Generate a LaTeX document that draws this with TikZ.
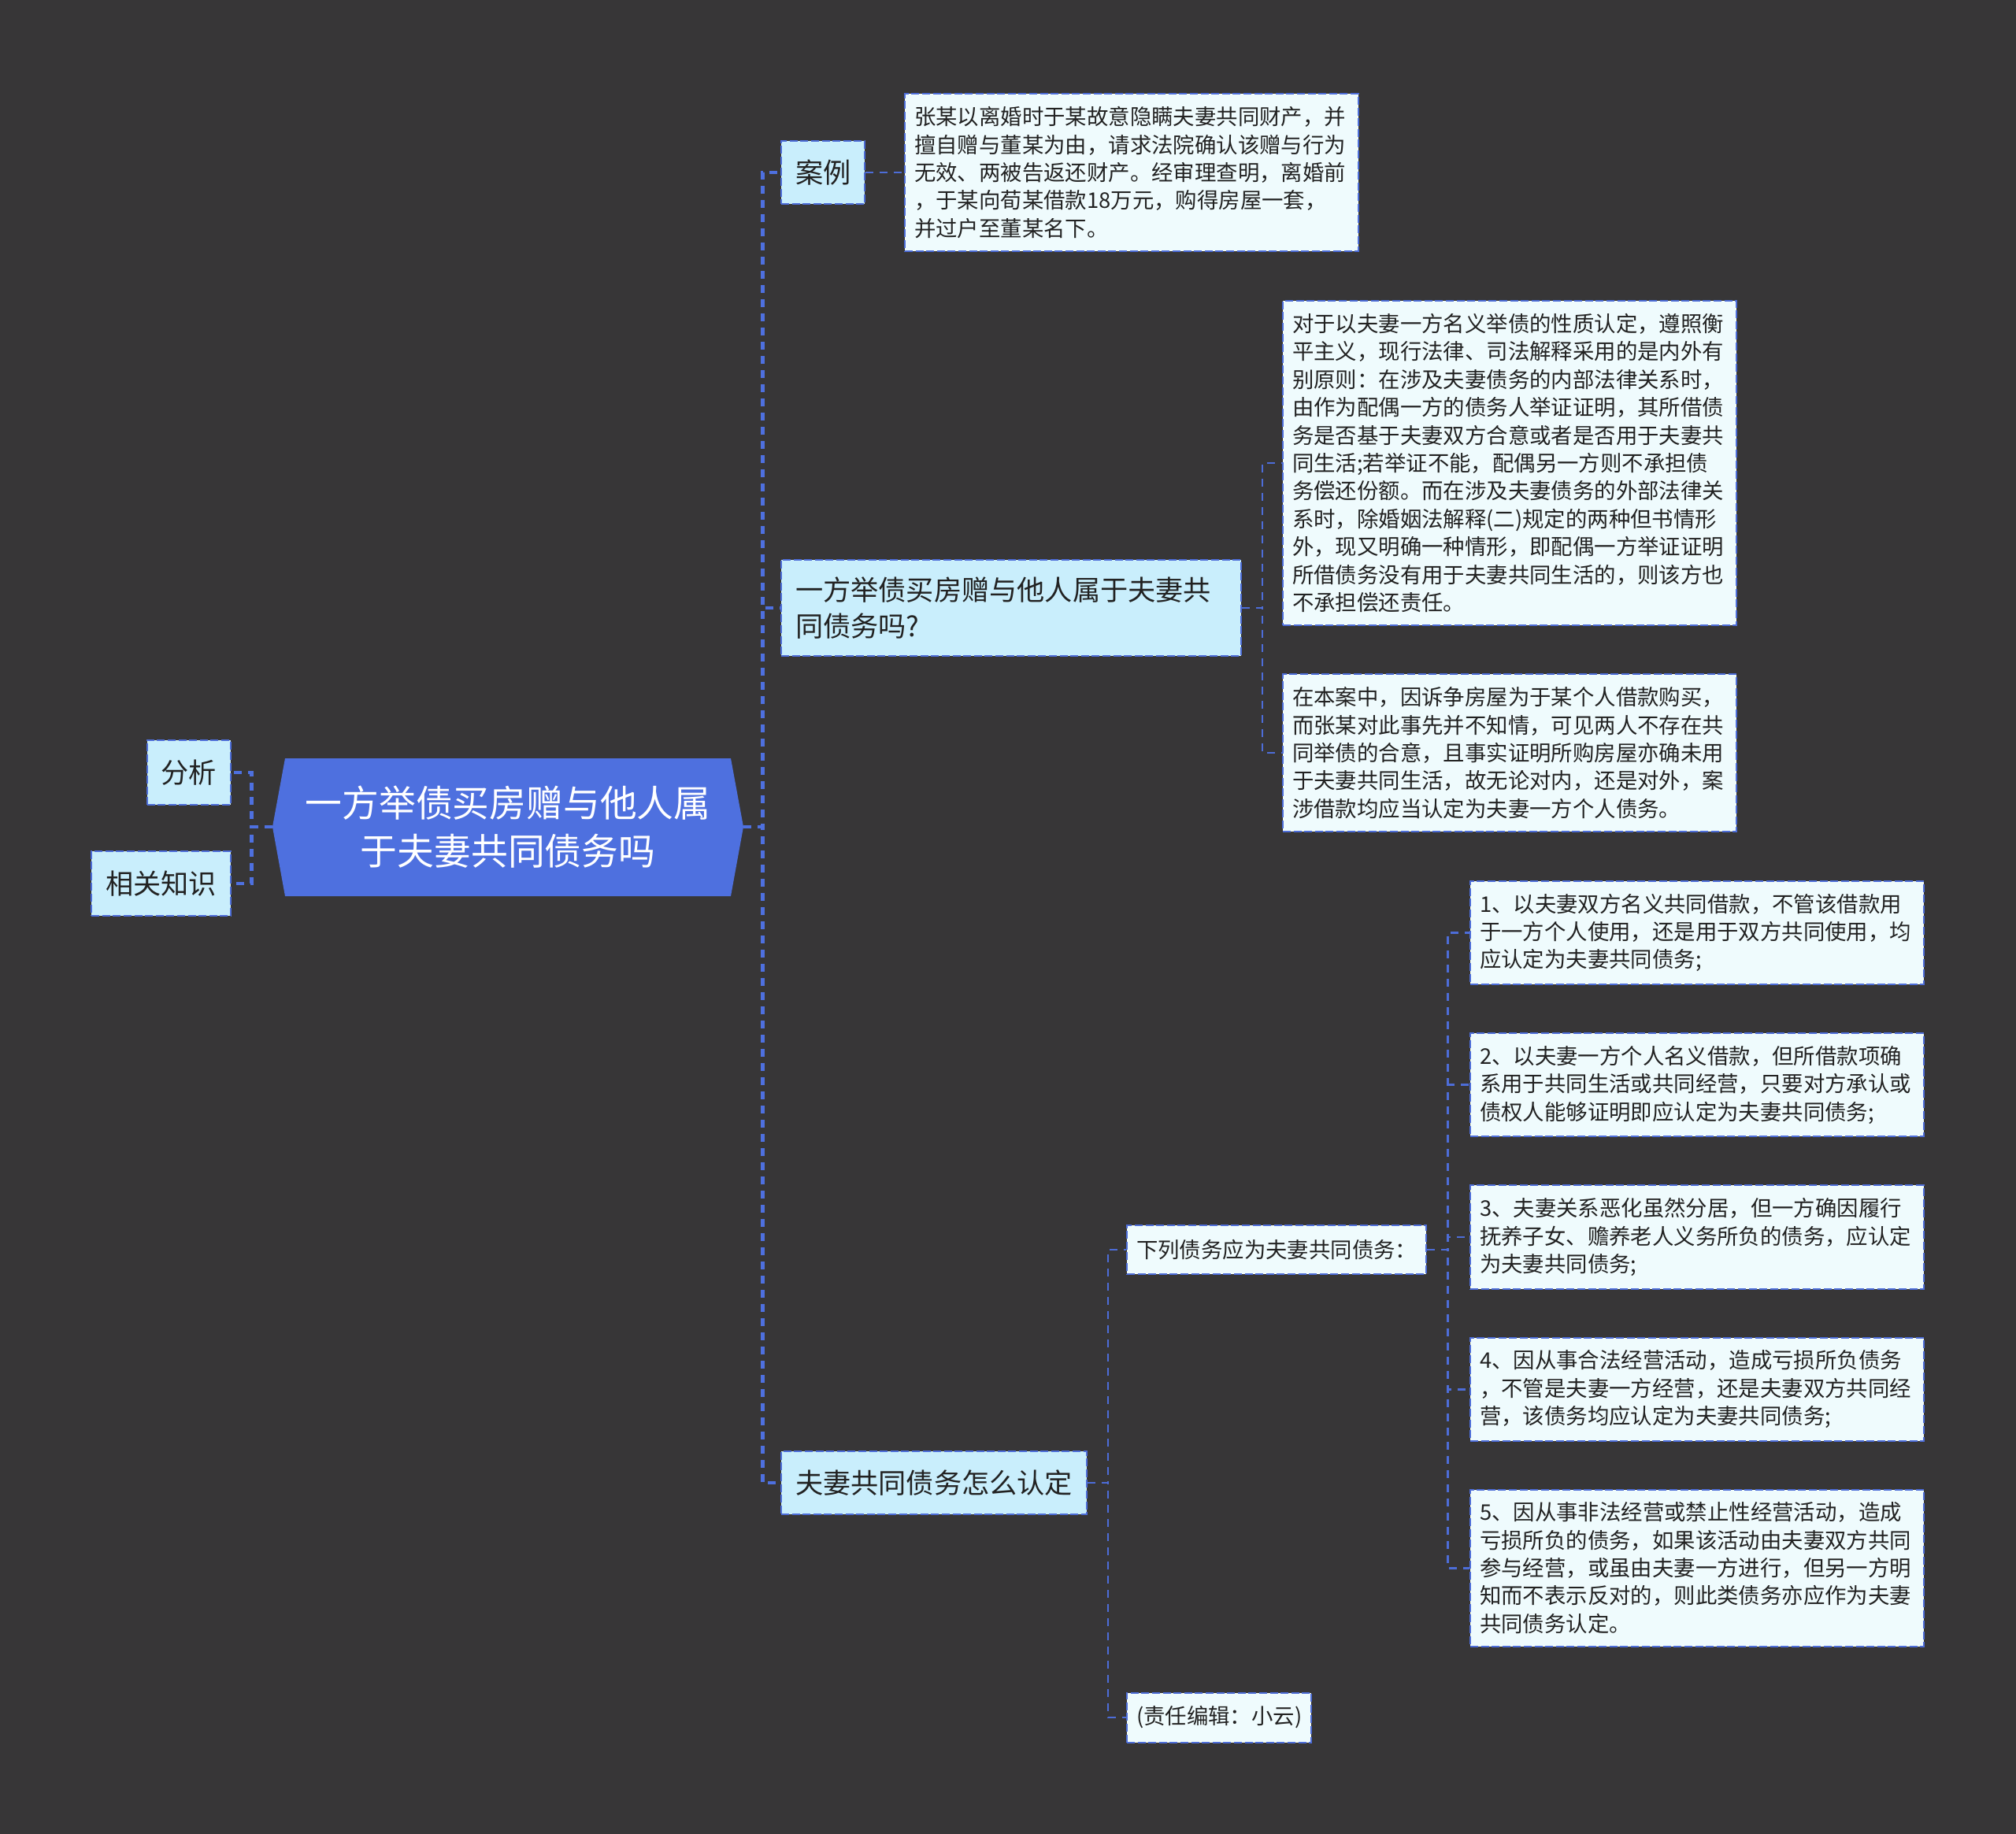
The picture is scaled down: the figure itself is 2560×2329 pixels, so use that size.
\documentclass[tikz,border=0pt]{standalone}
\usepackage{fontspec}
\usepackage{xcolor}
\usepackage{tikz}
\usetikzlibrary{positioning}
\newfontfamily\cjk{Noto Sans CJK SC}
\definecolor{Canvas}{HTML}{373637}
\definecolor{RootFill}{HTML}{4E70DF}
\definecolor{Edge}{HTML}{4D6DD8}
\definecolor{Topic}{HTML}{C9EEFC}
\definecolor{Note}{HTML}{EFFBFD}
\definecolor{Ink}{HTML}{222222}

\begin{document}
\begin{tikzpicture}[x=0.5pt,y=-0.5pt,
  node distance=30pt,
  rootbox/.style={align=center,text=white,inner sep=0pt,minimum width=299pt,minimum height=87.5pt,font=\cjk\fontsize{23.4pt}{30.2pt}\selectfont},
  topicbox/.style={draw=Edge,dash pattern=on 5pt off 1.8pt,line width=1pt,fill=Topic,text=Ink,align=left,inner xsep=9pt,inner ysep=11pt,minimum height=40pt,font=\cjk\fontsize{17.6pt}{22.9pt}\selectfont},
  notebox/.style={draw=Edge,dash pattern=on 5pt off 1.8pt,line width=1pt,fill=Note,text=Ink,align=left,inner xsep=6pt,inner ysep=8pt,font=\cjk\fontsize{13.7pt}{17.7pt}\selectfont},
  textbox/.style={notebox,text width=276pt},
  link/.style={draw=Edge,line width=1.4pt,dash pattern=on 5pt off 4pt},
  rootlink/.style={link,draw=RootFill,line width=2.2pt}]
  \fill[Canvas] (0,0) rectangle (2560,2329);
  \useasboundingbox (0,0) rectangle (2560,2329);
  \fill[RootFill] (346,1050) -- (362,963) -- (928,963) -- (944,1050) -- (928,1138) -- (362,1138) -- cycle;
  \node[rootbox] (root) at (645,1050) {一方举债买房赠与他人属\\于夫妻共同债务吗};
  \node[topicbox,anchor=east,minimum height=41pt] (fenxi) at (294,981) {分析};
  \node[topicbox,anchor=east,minimum height=41pt] (zhishi) at (294,1122) {相关知识};
  \node[topicbox,anchor=west] (case) at (991,219) {案例};
  \node[textbox,anchor=west] (casetext) at (1148,219) {张某以离婚时于某故意隐瞒夫妻共同财产，并\\擅自赠与董某为由，请求法院确认该赠与行为\\无效、两被告返还财产。经审理查明，离婚前\\，于某向荀某借款18万元，购得房屋一套，\\并过户至董某名下。};
  \node[topicbox,anchor=west,text width=274pt] (question) at (991,772) {一方举债买房赠与他人属于夫妻共\\同债务吗?};
  \node[textbox,anchor=west] (ansA) at (1628,588) {对于以夫妻一方名义举债的性质认定，遵照衡\\平主义，现行法律、司法解释采用的是内外有\\别原则：在涉及夫妻债务的内部法律关系时，\\由作为配偶一方的债务人举证证明，其所借债\\务是否基于夫妻双方合意或者是否用于夫妻共\\同生活;若举证不能，配偶另一方则不承担债\\务偿还份额。而在涉及夫妻债务的外部法律关\\系时，除婚姻法解释(二)规定的两种但书情形\\外，现又明确一种情形，即配偶一方举证证明\\所借债务没有用于夫妻共同生活的，则该方也\\不承担偿还责任。};
  \node[textbox,anchor=west] (ansB) at (1628,956) {在本案中，因诉争房屋为于某个人借款购买，\\而张某对此事先并不知情，可见两人不存在共\\同举债的合意，且事实证明所购房屋亦确未用\\于夫妻共同生活，故无论对内，还是对外，案\\涉借款均应当认定为夫妻一方个人债务。};
  \node[topicbox,anchor=west] (howto) at (991,1883) {夫妻共同债务怎么认定};
  \node[notebox,anchor=west,minimum height=31pt] (listing) at (1430,1587) {下列债务应为夫妻共同债务：};
  \node[notebox,anchor=west,minimum height=31.5pt] (editor) at (1430,2181) {(责任编辑：小云)};
  \node[textbox,anchor=north west] (item1) at (1866,1118) {1、以夫妻双方名义共同借款，不管该借款用\\于一方个人使用，还是用于双方共同使用，均\\应认定为夫妻共同债务;};
  \node[textbox,below=of item1] (item2) {2、以夫妻一方个人名义借款，但所借款项确\\系用于共同生活或共同经营，只要对方承认或\\债权人能够证明即应认定为夫妻共同债务;};
  \node[textbox,below=of item2] (item3) {3、夫妻关系恶化虽然分居，但一方确因履行\\抚养子女、赡养老人义务所负的债务，应认定\\为夫妻共同债务;};
  \node[textbox,below=of item3] (item4) {4、因从事合法经营活动，造成亏损所负债务\\，不管是夫妻一方经营，还是夫妻双方共同经\\营，该债务均应认定为夫妻共同债务;};
  \node[textbox,below=of item4] (item5) {5、因从事非法经营或禁止性经营活动，造成\\亏损所负的债务，如果该活动由夫妻双方共同\\参与经营，或虽由夫妻一方进行，但另一方明\\知而不表示反对的，则此类债务亦应作为夫妻\\共同债务认定。};
  \draw[rootlink] (root.east) -- ++(24,0) |- (case.west);
  \draw[rootlink] (root.east) -- ++(24,0) |- (question.west);
  \draw[rootlink] (root.east) -- ++(24,0) |- (howto.west);
  \draw[rootlink] (root.west) -- ++(-26,0) |- (fenxi.east);
  \draw[rootlink] (root.west) -- ++(-26,0) |- (zhishi.east);
  \draw[link] (case.east) -- (casetext.west);
  \draw[link] (question.east) -- ++(26,0) |- (ansA.west);
  \draw[link] (question.east) -- ++(26,0) |- (ansB.west);
  \draw[link] (howto.east) -- ++(26,0) |- (listing.west);
  \draw[link] (howto.east) -- ++(26,0) |- (editor.west);
  \foreach \k in {1,...,5}
    \draw[link] (listing.east) -- ++(26,0) |- (item\k.west);
\end{tikzpicture}
\end{document}
